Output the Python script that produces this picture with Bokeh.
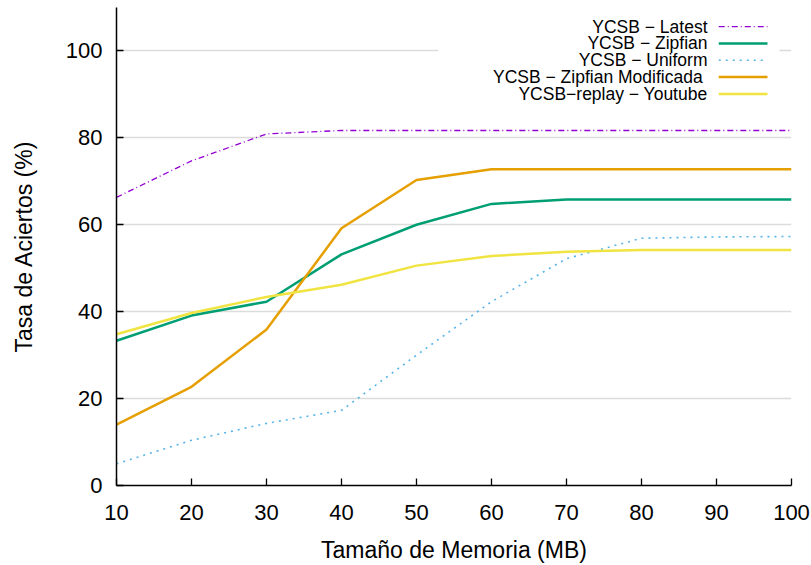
from bokeh.plotting import figure
from bokeh.models import Range1d, FixedTicker
from bokeh.core.properties import value
from bokeh.embed import file_html
from bokeh.resources import INLINE

# ---- data ----
memory_mb = [10, 20, 30, 40, 50, 60, 70, 80, 90, 100]
latest = [66.3, 74.7, 80.9, 81.7, 81.7, 81.7, 81.7, 81.7, 81.7, 81.7]
zipfian = [33.3, 39.1, 42.3, 53.2, 60.0, 64.8, 65.8, 65.8, 65.8, 65.8]
uniform = [5.0, 10.4, 14.3, 17.3, 30.0, 42.3, 52.2, 56.9, 57.2, 57.3]
zipf_mod = [14.0, 22.7, 35.9, 59.2, 70.3, 72.8, 72.8, 72.8, 72.8, 72.8]
youtube = [34.8, 39.7, 43.4, 46.2, 50.6, 52.8, 53.8, 54.2, 54.2, 54.2]

series_names = ["YCSB \u2212 Latest", "YCSB \u2212 Zipfian", "YCSB \u2212 Uniform",
                "YCSB \u2212  Zipfian Modificada", "YCSB\u2212replay \u2212 Youtube"]
x_ticks = [10, 20, 30, 40, 50, 60, 70, 80, 90, 100]
y_ticks = [0, 20, 40, 60, 80, 100]

# ---- styles ----
colors = ["#9400D3", "#009E73", "#56B4E9", "#E69F00", "#F0E442"]
dashes = ["6 3 1 3", "solid", "2 5", "solid", "solid"]
widths = [1.3, 2.5, 1.6, 2.5, 2.5]
FONT = "Liberation Sans"

p = figure(width=811, height=565, output_backend="svg", toolbar_location=None,
           x_range=Range1d(10, 100), y_range=Range1d(0, 110),
           min_border_left=116, min_border_right=20, min_border_top=7, min_border_bottom=78)
p.outline_line_color = None
p.background_fill_color = "white"
p.border_fill_color = "white"

p.xgrid.grid_line_color = None
p.ygrid.grid_line_color = "#dcdcdc"
p.ygrid.grid_line_width = 1.3
p.ygrid.ticker = FixedTicker(ticks=[20, 40, 60, 80, 100])

for ax in (p.xaxis[0], p.yaxis[0]):
    ax.axis_line_color = "black"
    ax.axis_line_width = 1.5
    ax.major_tick_line_color = "black"
    ax.major_tick_line_width = 1.3
    ax.major_tick_in = 7
    ax.major_tick_out = 0
    ax.minor_tick_line_color = None
    ax.major_label_text_font = FONT
    ax.major_label_text_font_size = "22px"
    ax.major_label_text_color = "black"
    ax.axis_label_text_font = FONT
    ax.axis_label_text_font_size = "23px"
    ax.axis_label_text_font_style = "normal"
    ax.axis_label_text_color = "black"

p.xaxis.ticker = FixedTicker(ticks=x_ticks)
p.yaxis.ticker = FixedTicker(ticks=y_ticks)
p.xaxis.axis_label = "Tamaño de Memoria (MB)"
p.yaxis.axis_label = "Tasa de Aciertos (%)"
p.xaxis.major_label_standoff = 19
p.xaxis.axis_label_standoff = 14
p.yaxis.major_label_standoff = 14
p.yaxis.axis_label_standoff = 26

all_series = [latest, zipfian, uniform, zipf_mod, youtube]
for ys, c, d, w in zip(all_series, colors, dashes, widths):
    p.line(memory_mb, ys, line_color=c, line_dash=d, line_width=w)

# ---- legend (manual: label right-aligned, sample line to its right) ----
leg_left, leg_right, leg_top, leg_bottom = 52.9, 98.4, 108.5, 87.8
p.quad(left=[leg_left], right=[leg_right], top=[leg_top], bottom=[leg_bottom],
       fill_color="white", line_color=None)
text_x = 88.8
seg_x0, seg_x1 = 90.3, 96.8
row_y0, row_step = 105.6, 3.87
for i, (name, c, d, w) in enumerate(zip(series_names, colors, dashes, widths)):
    yy = row_y0 - i * row_step
    p.text(x=[text_x], y=[yy], text=[name], text_align="right", text_baseline="middle",
           text_font=value(FONT), text_font_size="17.5px", text_color="black")
    p.line([seg_x0, seg_x1], [yy, yy], line_color=c, line_dash=d, line_width=w)

open("out.html", "w").write(file_html(p, INLINE))
